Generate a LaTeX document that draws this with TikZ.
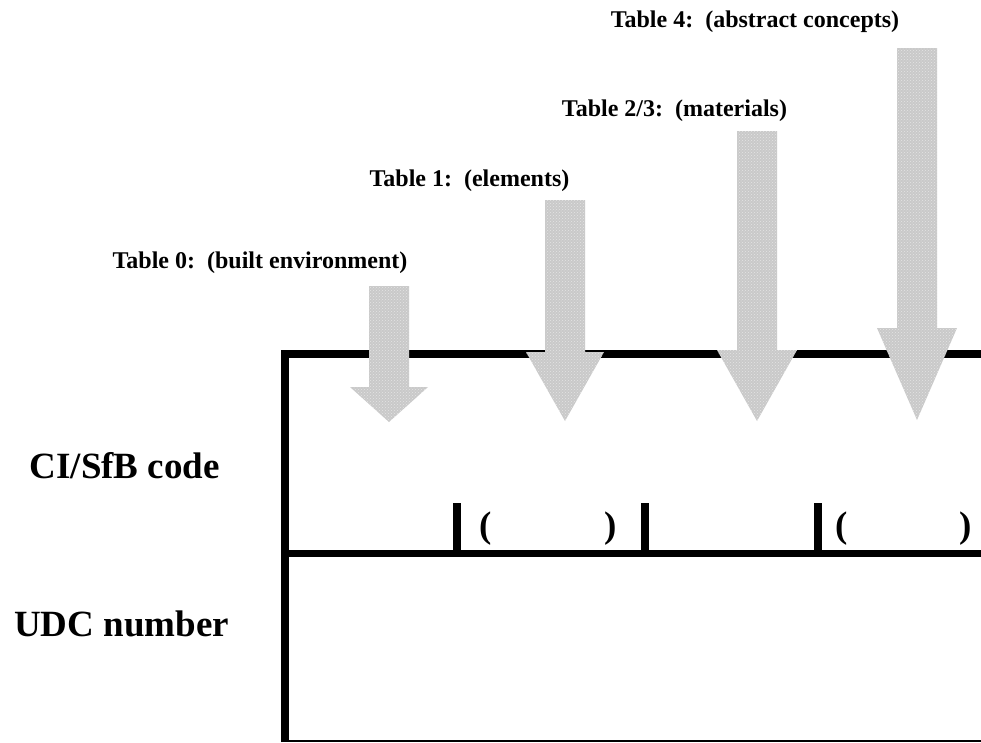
\documentclass[tikz,border=0pt]{standalone}
\usepackage{fontspec}
\setmainfont{Liberation Serif}
\usetikzlibrary{patterns}
\begin{document}
\begin{tikzpicture}[x=1pt,y=-1pt,
  frame/.style={line width=8pt,line join=miter,line cap=butt},
  tick/.style={line width=8pt},
  tablearrow/.style={fill=gray!42,draw=none,
    postaction={pattern=crosshatch dots,pattern color=gray!20}},
  biglabel/.style={font=\bfseries\fontsize{37}{41}\selectfont,inner sep=0pt},
  paren/.style={font=\bfseries\fontsize{37}{41}\selectfont,inner sep=0pt,anchor=base},
  tablelabel/.style={font=\bfseries\fontsize{24}{27}\selectfont,inner sep=0pt,anchor=base}]
\useasboundingbox (0,0) rectangle (981,742);

% row labels
\node[biglabel,anchor=base east] (cisfb) at (220,478) {CI/SfB code};
\node[biglabel,anchor=base west] (udc) at (14,636) {UDC number};

% code frame
\draw[frame] (284.5,742) -- (284.5,354) -- (981,354);
\draw[line width=7pt] (284.5,553.5) -- (981,553.5);
\draw[line width=2pt] (281,741) -- (981,741);
\draw[tick] (457,503) -- (457,554);
\draw[tick] (645,503) -- (645,554);
\draw[tick] (818,503) -- (818,554);

% brackets for the facet codes
\node[paren] (po1) at (486,537) {(};
\node[paren] (pc1) at (611,537) {)};
\node[paren] (po2) at (842,537) {(};
\node[paren] (pc2) at (966,537) {)};

% table arrows
\path[tablearrow] (369,286) -- (409,286) -- (409,387) -- (428,387) -- (389,422)
  -- (350,387) -- (369,387) -- cycle;
\path[tablearrow] (545,200) -- (585,200) -- (585,352) -- (604,352) -- (565,421)
  -- (526,352) -- (545,352) -- cycle;
\path[tablearrow] (737,131) -- (777,131) -- (777,350) -- (797,350) -- (757,421)
  -- (717,350) -- (737,350) -- cycle;
\path[tablearrow] (897,48) -- (937,48) -- (937,328) -- (957,328) -- (917,420)
  -- (877,328) -- (897,328) -- cycle;

% table labels
\node[tablelabel] (t0) at (260,268) {Table 0:\ \ (built environment)};
\node[tablelabel] (t1) at (469.5,186) {Table 1:\ \ (elements)};
\node[tablelabel] (t23) at (674.5,116) {Table 2/3:\ \ (materials)};
\node[tablelabel] (t4) at (755,27) {Table 4:\ \ (abstract concepts)};
\end{tikzpicture}
\end{document}
